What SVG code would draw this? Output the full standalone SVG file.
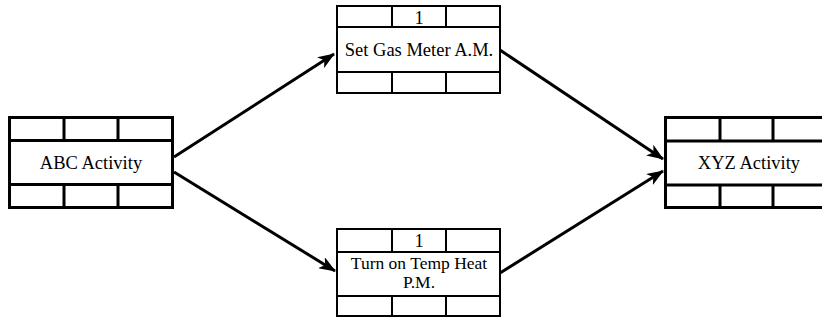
<svg xmlns="http://www.w3.org/2000/svg" width="822" height="324" viewBox="0 0 822 324">
<style>
.bg{fill:#fff}
.big{fill:#fff;stroke:#000;stroke-width:3}
.bl{stroke:#000;stroke-width:3;fill:none}
.mid{fill:#fff;stroke:#000;stroke-width:2}
.ml{stroke:#000;stroke-width:2;fill:none}
.t{font-family:"Liberation Serif","Times New Roman",serif;font-size:18.5px;fill:#000;text-anchor:middle}
.s{font-size:17.5px}
.c{stroke:#000;stroke-width:3;fill:none}
</style>
<defs>
<marker id="ah" viewBox="0 0 17 13" refX="16" refY="6.5" markerWidth="17" markerHeight="13" markerUnits="userSpaceOnUse" orient="auto">
<path d="M0,0 L17,6.5 L0,13 L4.5,6.5 Z" fill="#000"/>
</marker>
</defs>
<rect class="bg" x="0" y="0" width="822" height="324"/>
<g id="connectors">
<line class="c" x1="174" y1="157" x2="334" y2="54" marker-end="url(#ah)"/>
<line class="c" x1="174" y1="172" x2="335" y2="271" marker-end="url(#ah)"/>
<line class="c" x1="500" y1="50" x2="663" y2="159" marker-end="url(#ah)"/>
<line class="c" x1="500" y1="273" x2="663" y2="171" marker-end="url(#ah)"/>
</g>
<g id="abc">
<rect class="big" x="9.5" y="117.5" width="163" height="90"/>
<path class="bl" d="M9.5,140.5H172.5M9.5,184.5H172.5M64,117.5V140.5M118,117.5V140.5M64,184.5V207.5M118,184.5V207.5"/>
<text class="t" x="91" y="169">ABC Activity</text>
</g>
<g id="gas">
<rect class="mid" x="337" y="6" width="163" height="87"/>
<path class="ml" d="M337,27H500M337,72H500M392,6V27M446,6V27M392,72V93M446,72V93"/>
<text class="t" x="419" y="24">1</text>
<text class="t" x="419" y="56">Set Gas Meter A.M.</text>
</g>
<g id="heat">
<rect class="mid" x="337" y="229" width="163" height="87"/>
<path class="ml" d="M337,252H500M337,296H500M392,229V252M446,229V252M392,296V316M446,296V316"/>
<text class="t" x="419" y="247">1</text>
<text class="t s" x="419" y="269">Turn on Temp Heat</text>
<text class="t s" x="419" y="288">P.M.</text>
</g>
<g id="xyz">
<rect class="big" x="665.5" y="117.5" width="163" height="90"/>
<path class="bl" d="M665.5,141H828.5M665.5,185H828.5M720,117.5V141M773,117.5V141M720,185V207.5M773,185V207.5"/>
<text class="t" x="749" y="169">XYZ Activity</text>
</g>
</svg>
